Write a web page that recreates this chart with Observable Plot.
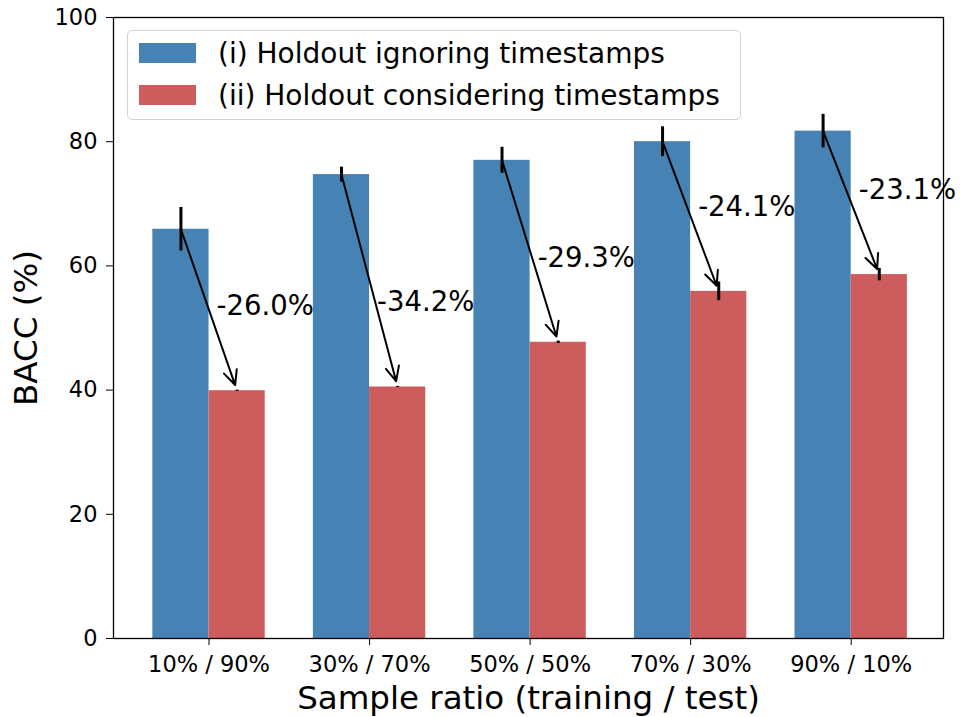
<!DOCTYPE html>
<html><head><meta charset="utf-8">
<script src="https://cdn.jsdelivr.net/npm/d3@7"></script>
<script src="https://cdn.jsdelivr.net/npm/@observablehq/plot@0.6"></script>
<style>
body{margin:0;background:#fff;}
#wrap{position:relative;width:962px;height:717px;font-family:"DejaVu Sans",sans-serif;color:#000;}
#legend{position:absolute;left:127px;top:30px;height:90px;box-sizing:border-box;border:1.5px solid #d3d3d3;border-radius:5px;background:rgba(255,255,255,0.8);padding:7px 20px 0 11px;font-size:28px;}
.row{display:flex;align-items:center;height:30px;margin-bottom:12px;white-space:nowrap;}
.sw{width:57px;height:20px;margin-right:22px;flex:none;}
</style></head><body><div id="wrap"></div>
<script>
const ratios = ["10% / 90%", "30% / 70%", "50% / 50%", "70% / 30%", "90% / 10%"];
const ignoring = [65.9, 74.7, 77.0, 80.0, 81.7];
const ignoringErr = [3.5, 1.2, 2.1, 2.4, 2.7];
const considering = [39.9, 40.5, 47.7, 55.9, 58.6];
const consideringErr = [0.1, 0.1, 0.2, 1.5, 1.0];
const drops = [26.0, 34.2, 29.3, 24.1, 23.1];
const seriesNames = ["(i) Holdout ignoring timestamps", "(ii) Holdout considering timestamps"];
const colors = ["#4682b4", "#cd5c5c"];
const yTicks = [0, 20, 40, 60, 80, 100];
const xLabel = "Sample ratio (training / test)";
const yLabel = "BACC (%)";
const barWidth = 0.35;

const rows = ratios.map((r, i) => ({
  i, r,
  a: ignoring[i], ae: ignoringErr[i],
  b: considering[i], be: consideringErr[i],
  drop: drops[i]
}));

const chart = Plot.plot({
  width: 962, height: 717,
  marginLeft: 113, marginRight: 19, marginTop: 17, marginBottom: 79,
  style: {fontFamily: "DejaVu Sans, sans-serif", background: "white", overflow: "visible", color: "black"},
  x: {domain: [-0.595, 4.575]},
  y: {domain: [0, 100]},
  marks: [
    Plot.rect(rows, {x1: d => d.i - barWidth, x2: d => d.i, y1: 0, y2: "a", fill: colors[0]}),
    Plot.rect(rows, {x1: d => d.i, x2: d => d.i + barWidth, y1: 0, y2: "b", fill: colors[1]}),
    Plot.ruleX(rows, {x: d => d.i - barWidth / 2, y1: d => d.a - d.ae, y2: d => d.a + d.ae, stroke: "black", strokeWidth: 3}),
    Plot.ruleX(rows, {x: d => d.i + barWidth / 2, y1: d => d.b - d.be, y2: d => d.b + d.be, stroke: "black", strokeWidth: 3}),
    Plot.arrow(rows, {x1: d => d.i - barWidth / 2, y1: "a", x2: d => d.i + barWidth / 2, y2: "b",
      stroke: "black", strokeWidth: 2, headAngle: 50, headLength: 12, insetEnd: 6}),
    Plot.text(rows, {x: d => d.i + barWidth, y: d => d.b + 13.6, text: d => "-" + d.drop.toFixed(1) + "%", fontSize: 27.5, fill: "black"}),
    Plot.axisX({ticks: rows.map(d => d.i), tickFormat: i => ratios[i], tickSize: 7, tickPadding: 11, fontSize: 22.5, label: null}),
    Plot.axisY({ticks: yTicks, tickSize: 7, tickPadding: 9, fontSize: 22.5, label: null}),
    Plot.text([xLabel], {frameAnchor: "bottom", dy: 60, lineAnchor: "middle", textAnchor: "middle", fontSize: 32.5, fill: "black"}),
    Plot.text([yLabel], {frameAnchor: "left", dx: -87, rotate: -90, lineAnchor: "middle", textAnchor: "middle", fontSize: 32.5, fill: "black"}),
    Plot.frame({stroke: "black", strokeWidth: 1.3})
  ]
});

const wrap = document.getElementById("wrap");
wrap.appendChild(chart);
const legend = document.createElement("div");
legend.id = "legend";
seriesNames.forEach((name, k) => {
  const row = document.createElement("div");
  row.className = "row";
  const sw = document.createElement("span");
  sw.className = "sw";
  sw.style.background = colors[k];
  const t = document.createElement("span");
  t.textContent = name;
  row.appendChild(sw); row.appendChild(t);
  legend.appendChild(row);
});
wrap.appendChild(legend);
</script>
</body></html>
